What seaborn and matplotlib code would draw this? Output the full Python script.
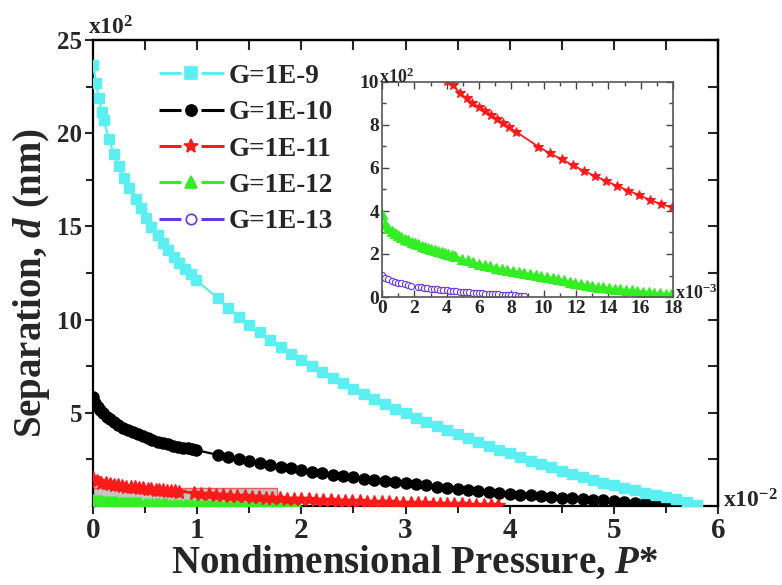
import numpy as np
import matplotlib
matplotlib.use("Agg")
import matplotlib.pyplot as plt
import seaborn as sns
from matplotlib.lines import Line2D
from matplotlib.patches import Rectangle
from matplotlib.legend_handler import HandlerBase
from matplotlib.ticker import MultipleLocator, FixedLocator, NullFormatter

# Nondimensional pressure P* in units of 1e-3, separation d in nm
p_g9 = [0, 0.3, 0.55, 0.86, 1.06, 1.5, 2.0, 2.5, 3.0, 3.5, 4.1, 4.6, 5.1, 5.6, 6.2, 6.7,
        7.2, 7.8, 8.3, 8.8, 9.4, 9.9,
        12, 13, 14, 15, 16, 17, 18, 19, 20, 21, 22, 23, 24, 25, 26, 27, 28, 29, 30, 31,
        32, 33, 34, 35, 36, 37, 38, 39, 40, 41, 42, 43, 44, 45, 46, 47, 48, 49, 50, 51,
        52, 53, 54, 55, 56, 57, 58]
d_g9 = [2366, 2268, 2190, 2115, 2070, 1970, 1890, 1824, 1760, 1704, 1647, 1597, 1543, 1498,
        1454, 1409, 1373, 1337, 1302, 1271, 1245, 1212,
        1114, 1060, 1016, 971, 932, 890, 855, 815, 783, 751, 717, 688, 658, 628, 599, 572,
        547, 520, 497, 474, 452, 429, 408, 387, 365, 343, 322, 302, 282, 263, 244, 225,
        207, 190, 173, 157, 141, 126, 111, 97, 84, 71, 59, 47, 35, 20, 5]

p_g10 = [0, 0.2, 0.48, 0.7, 0.96, 1.3, 1.6, 2.0, 2.4, 2.9, 3.4, 3.8, 4.3, 4.8, 5.3, 5.7,
         6.2, 6.7, 7.2, 7.7, 8.2, 8.6, 9.1, 9.5, 9.9,
         12, 13, 14, 15, 16, 17, 18, 19, 20, 21, 22, 23, 24, 25, 26, 27, 28, 29, 30, 31,
         32, 33, 34, 35, 36, 37, 38, 39, 40, 41, 42, 43, 44, 45, 46, 47, 48, 49, 50, 51,
         52, 53, 54, 55]
d_g10 = [586, 555, 533, 515, 497, 480, 465, 450, 435, 421, 408, 395, 384, 373, 363, 354,
         345, 338, 331, 324, 318, 313, 309, 304, 300,
         274, 261, 250, 241, 232, 220, 211, 202, 192, 183, 175, 167, 160, 153, 146, 140,
         134, 128, 122, 116, 110, 104, 98, 92, 86, 80, 75, 70, 65, 61, 57, 53, 49, 45,
         41, 38, 34, 30, 26, 22, 18, 14, 10, 5]

p_g11 = [0, 0.4, 0.8, 1.2, 1.6, 2.0, 2.4, 2.8, 3.2, 3.6, 4.0, 4.41, 4.82, 5.24, 5.59, 6.0,
         6.37, 6.74, 7.09, 7.5, 7.88, 8.29,
         9.67, 10.39, 11.12, 11.79, 12.49, 13.17, 13.85, 14.55, 15.23, 15.91, 16.57, 17.23,
         17.91, 18.6, 19.3, 20.0, 20.7, 21.4, 22.1, 22.8, 23.5, 24.2, 24.9, 25.6, 26.3,
         27.0, 27.7, 28.4, 29.1, 29.8, 30.5, 31.2, 31.9, 32.6, 33.3, 34.0, 34.7, 35.4,
         36.1, 36.8, 37.5, 38.2, 38.9]
d_g11 = [148, 136, 126, 121, 117, 114, 110, 107, 104, 102, 100.5, 98.6, 94.7, 92.4, 90.0, 88.5,
         86.7, 84.7, 82.8, 80.8, 78.9, 76.9,
         69.9, 66.8, 64.0, 61.4, 58.6, 56.3, 54.0, 51.6, 49.5, 47.4, 45.1, 43.3, 41.7, 40.0,
         38.3, 36.6, 35.0, 33.5, 32.0, 30.5, 29.0, 27.6, 26.2, 24.8, 23.5, 22.2, 20.9,
         19.6, 18.4, 17.2, 16.0, 14.8, 13.7, 12.6, 11.5, 10.4, 9.4, 8.4, 7.4, 6.4, 5.4,
         4.4, 3.4]

p_g12 = [0, 0.2, 0.4, 0.6, 0.8, 1.0, 1.2, 1.4, 1.63, 1.85, 2.05, 2.25, 2.45, 2.66, 2.86,
         3.06, 3.27, 3.48, 3.69, 3.9, 4.1, 4.3, 4.5,
         4.95, 5.3, 5.65, 6.0, 6.35, 6.7, 7.05, 7.4, 7.75, 8.1, 8.45, 8.8, 9.15, 9.5, 9.85,
         10.2, 10.55, 10.9, 11.25, 11.6, 11.95, 12.3, 12.65, 13.0, 13.35, 13.7, 14.05,
         14.4, 14.75, 15.1, 15.45, 15.8, 16.15, 16.5, 16.85, 17.2, 17.55, 17.9, 18.25,
         18.6, 18.95, 19.3, 19.65]
d_g12 = [38.5, 34.0, 32.2, 30.7, 29.6, 28.7, 27.9, 27.2, 26.5, 25.8, 25.1, 24.5, 23.9, 23.4,
         22.9, 22.4, 21.9, 21.5, 21.1, 20.6, 20.1, 19.7, 19.3,
         17.9, 17.0, 16.2, 15.5, 14.8, 14.2, 13.6, 13.1, 12.6, 12.2, 11.8, 11.3, 10.8, 10.3,
         9.8, 9.3, 8.8, 8.3, 7.7, 7.2, 6.7, 6.2, 5.6, 5.2, 4.8, 4.5, 4.2, 3.9, 3.6, 3.4,
         3.1, 2.8, 2.5, 2.2, 2.0, 1.8, 1.6, 1.4, 1.2, 0.9, 0.6, 0.4, 0.2]

p_g13 = [0, 0.2, 0.4, 0.6, 0.8, 1.0, 1.2, 1.4, 1.6, 1.8,
         2.2, 2.4, 2.6, 2.8, 3.0, 3.2, 3.4, 3.6, 3.8, 4.0, 4.2, 4.4, 4.6, 4.8, 5.0, 5.2,
         5.4, 5.6, 5.8, 6.0, 6.2, 6.4, 6.6, 6.8, 7.0, 7.2, 7.4, 7.6, 7.8, 8.0, 8.2, 8.4,
         8.6, 8.8]
d_g13 = [10.2, 8.8, 8.2, 7.6, 7.1, 6.7, 6.3, 5.9, 5.5, 5.2,
         4.7, 4.5, 4.3, 4.1, 3.9, 3.7, 3.5, 3.4, 3.2, 3.1, 2.9, 2.8, 2.6, 2.5, 2.4, 2.2,
         2.1, 2.0, 1.9, 1.8, 1.7, 1.6, 1.5, 1.4, 1.3, 1.2, 1.1, 1.0, 0.9, 0.8, 0.7, 0.6,
         0.5, 0.4]

labels = ["G=1E-9", "G=1E-10", "G=1E-11", "G=1E-12", "G=1E-13"]
colors = ["#5CEFF2", "#000000", "#FF1A1A", "#33EE22", "#6A35E6"]
markers = ["s", "o", "*", "^", "o"]
filled = [True, True, True, True, False]
ms_main = [7.5, 8.0, 10.0, 7.0, 5.5]
ms_legend = [8.0, 8.0, 10.5, 8.0, 7.5]
ms_inset = [5.0, 5.0, 7.5, 6.5, 4.5]
pressures = [p_g9, p_g10, p_g11, p_g12, p_g13]
separations = [d_g9, d_g10, d_g11, d_g12, d_g13]

sns.set_style("ticks")
plt.rcParams.update({
    "font.family": ["Liberation Serif", "DejaVu Serif"],
    "font.weight": "bold",
    "mathtext.fontset": "custom",
    "mathtext.rm": "Liberation Serif:bold",
    "mathtext.bf": "Liberation Serif:bold",
    "mathtext.it": "Liberation Serif:bold:italic",
    "mathtext.default": "rm",
    "axes.linewidth": 1.6,
    "axes.edgecolor": "black",
})


class GapLineHandler(HandlerBase):
    """Legend key drawn as line - marker - line with a gap around the marker."""

    def create_artists(self, legend, orig_handle, xdescent, ydescent, width, height,
                       fontsize, trans):
        y = height / 2 - ydescent
        x0 = -xdescent
        gap = 0.3 * width
        kw = dict(color=orig_handle.get_color(), lw=orig_handle.get_linewidth(),
                  solid_capstyle="butt")
        left = Line2D([x0, x0 + (width - gap) / 2], [y, y], **kw)
        right = Line2D([x0 + (width + gap) / 2, x0 + width], [y, y], **kw)
        mark = Line2D([x0 + width / 2], [y], linestyle="None",
                      marker=orig_handle.get_marker(),
                      markersize=orig_handle.get_markersize(),
                      markerfacecolor=orig_handle.get_markerfacecolor(),
                      markeredgecolor=orig_handle.get_markeredgecolor(),
                      markeredgewidth=orig_handle.get_markeredgewidth())
        for a in (left, right, mark):
            a.set_transform(trans)
        return [left, right, mark]


fig = plt.figure(figsize=(7.82, 5.85), dpi=100)
ax = fig.add_axes([93 / 782, 79 / 585, 625 / 782, 466 / 585])

# zoom window shown in the inset
ax.add_patch(Rectangle((0, 0), 1.77, 0.97, facecolor="#c4c4c4", edgecolor="#e06060",
                       lw=1.0, zorder=1))

for i in reversed(range(5)):
    c = colors[i]
    sns.lineplot(x=np.array(pressures[i]) / 10, y=np.array(separations[i]) / 100, ax=ax,
                 color=c, lw=1.6, marker=markers[i], markersize=ms_main[i],
                 markerfacecolor=c if filled[i] else "white", markeredgecolor=c,
                 markeredgewidth=1.0, estimator=None, sort=False, legend=False, zorder=3)

ax.set_xlim(0, 6)
ax.set_ylim(0, 25)
ax.xaxis.set_major_locator(MultipleLocator(1))
ax.xaxis.set_minor_locator(MultipleLocator(0.5))
ax.yaxis.set_major_locator(FixedLocator([5, 10, 15, 20, 25]))
ax.yaxis.set_minor_locator(FixedLocator([2.5, 7.5, 12.5, 17.5, 22.5]))
ax.tick_params(which="both", direction="out", top=False, right=False, width=1.5)
ax.tick_params(which="major", length=6)
ax.tick_params(which="minor", length=5)
ax.tick_params(axis="x", labelsize=21, pad=2)
ax.tick_params(axis="y", labelsize=18, pad=2)
for s in ax.spines.values():
    s.set_visible(True)

sec_top = ax.secondary_xaxis("top")
sec_top.xaxis.set_major_locator(MultipleLocator(0.5))
sec_top.xaxis.set_major_formatter(NullFormatter())
sec_top.tick_params(direction="in", length=7, width=1.5)
sec_right = ax.secondary_yaxis("right")
sec_right.yaxis.set_major_locator(MultipleLocator(2.5))
sec_right.yaxis.set_major_formatter(NullFormatter())
sec_right.tick_params(direction="in", length=7, width=1.5)

ax.set_xlabel(r"Nondimensional Pressure, $\mathit{P}$*", fontsize=28, fontweight="bold")
ax.xaxis.set_label_coords(0.515, -0.083)
ax.set_ylabel(r"Separation, $\mathit{d}$ (nm)", fontsize=28, fontweight="bold")
ax.yaxis.set_label_coords(-0.066, 0.478)

ax.text(-0.008, 1.011, r"x10$^{2}$", transform=ax.transAxes, fontsize=17,
        ha="left", va="baseline")
ax.text(1.008, -0.004, r"x10$^{-2}$", transform=ax.transAxes, fontsize=17,
        ha="left", va="baseline")

handles = []
for i in range(5):
    c = colors[i]
    handles.append(Line2D([], [], color=c, lw=2.2, marker=markers[i],
                          markersize=ms_legend[i],
                          markerfacecolor=c if filled[i] else "white",
                          markeredgecolor=c, markeredgewidth=1.2))
ax.legend(handles, labels, loc="upper left", bbox_to_anchor=(0.105, 0.949),
          frameon=False, handlelength=2.4, handletextpad=0.2,
          labelspacing=0.42, borderpad=0, borderaxespad=0,
          handler_map={Line2D: GapLineHandler()},
          prop={"family": "Liberation Serif", "weight": "bold", "size": 19.5})

# inset: close-up of the low-pressure region
axi = fig.add_axes([382 / 782, (585 - 297) / 585, 291 / 782, 215 / 585])
axi.set_facecolor("white")
for i in reversed(range(2, 5)):
    c = colors[i]
    sns.lineplot(x=np.array(pressures[i]), y=np.array(separations[i]) / 10, ax=axi,
                 color=c, lw=1.3, marker=markers[i], markersize=ms_inset[i],
                 markerfacecolor=c if filled[i] else "white", markeredgecolor=c,
                 markeredgewidth=0.8, estimator=None, sort=False, legend=False)
axi.set_xlim(0, 18)
axi.set_ylim(0, 10)
axi.set_xlabel("")
axi.set_ylabel("")
axi.xaxis.set_major_locator(MultipleLocator(2))
axi.xaxis.set_minor_locator(MultipleLocator(1))
axi.yaxis.set_major_locator(MultipleLocator(2))
axi.yaxis.set_minor_locator(MultipleLocator(1))
axi.tick_params(which="both", direction="in", top=True, right=True, width=1.0,
                color="#444444", labelsize=14, pad=2)
axi.tick_params(which="major", length=5)
axi.tick_params(which="minor", length=3)
for s in axi.spines.values():
    s.set_visible(True)
    s.set_color("#555555")
    s.set_linewidth(1.2)
axi.text(-0.012, 0.995, r"x10$^{2}$", transform=axi.transAxes, fontsize=13,
         ha="left", va="baseline")
axi.text(1.008, -0.01, r"x10$^{-3}$", transform=axi.transAxes, fontsize=13,
         ha="left", va="baseline")

fig.savefig("out.png", dpi=100)
